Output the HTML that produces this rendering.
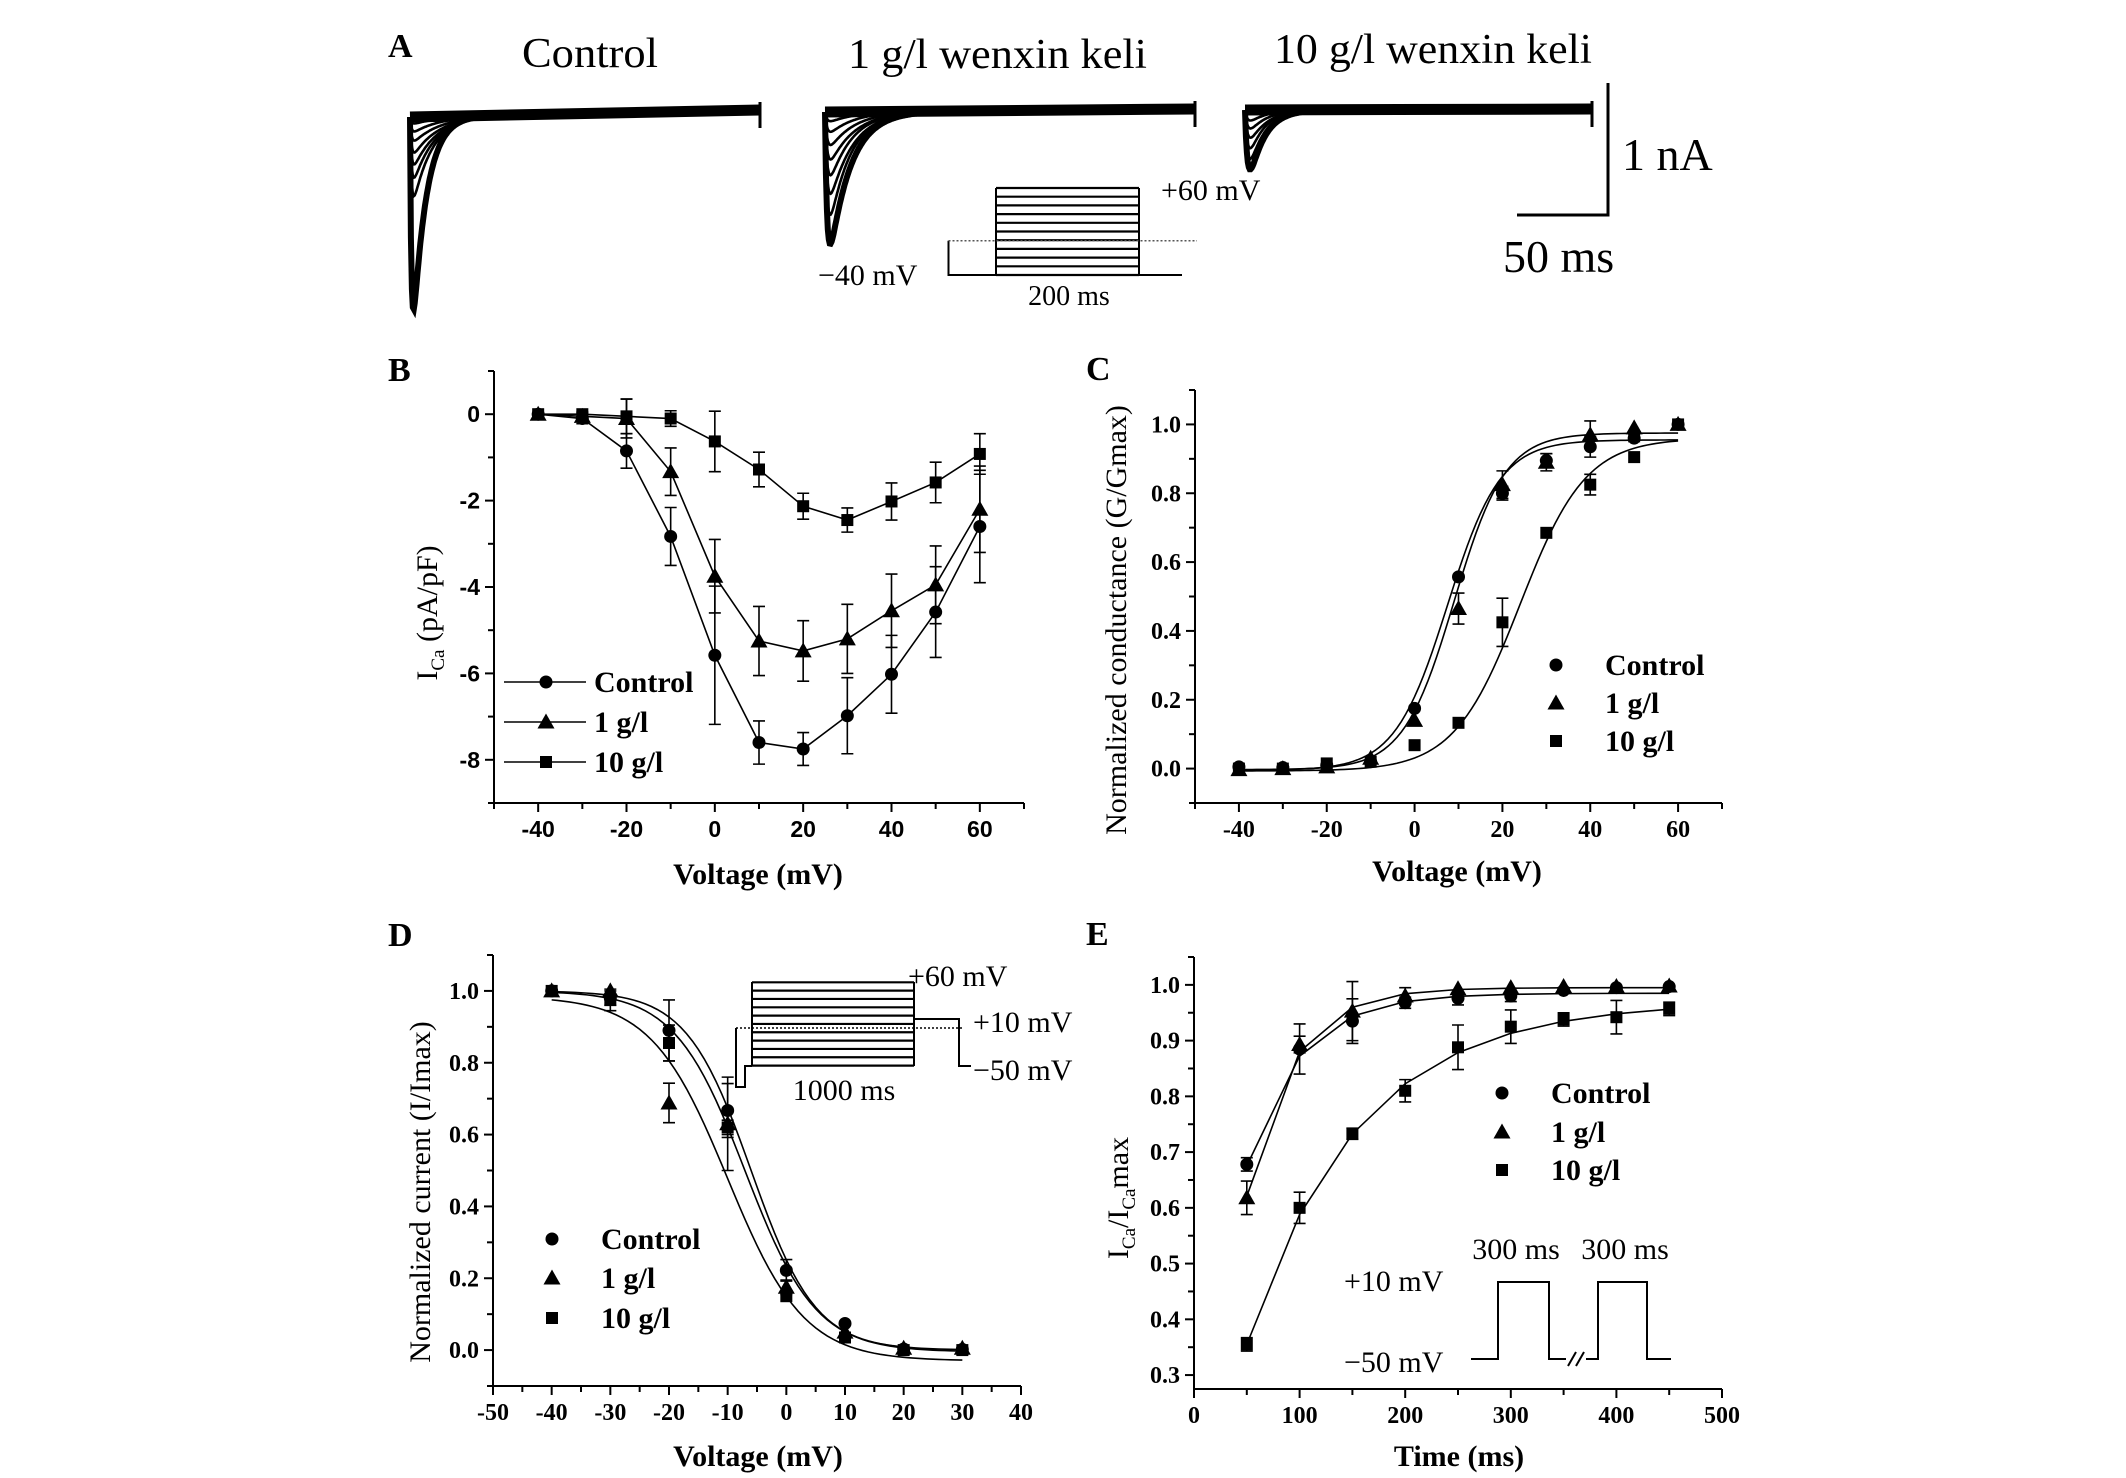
<!DOCTYPE html>
<html><head><meta charset="utf-8"><title>Wenxin keli calcium current figure</title>
<style>
html,body{margin:0;padding:0;background:#fff;}
svg{display:block;}
.serif{font-family:"Liberation Serif",serif;}
.sans{font-family:"Liberation Sans",sans-serif;}
</style></head>
<body>
<svg id="fig" width="2126" height="1478" viewBox="0 0 2126 1478" xmlns="http://www.w3.org/2000/svg">
<rect x="0" y="0" width="2126" height="1478" fill="#fff"/>
<g class="serif" fill="#000">
<text x="388" y="57" font-size="34" font-weight="bold">A</text>
<text x="522" y="67" font-size="42" textLength="136" lengthAdjust="spacingAndGlyphs">Control</text>
<text x="848" y="68" font-size="42" textLength="299" lengthAdjust="spacingAndGlyphs">1 g/l wenxin keli</text>
<text x="1274" y="63" font-size="42" textLength="318" lengthAdjust="spacingAndGlyphs">10 g/l wenxin keli</text>
<text x="1622" y="170" font-size="46">1 nA</text>
<text x="1503" y="272" font-size="46">50 ms</text>
<text x="1161" y="200" font-size="30">+60 mV</text>
<text x="818" y="285" font-size="30">−40 mV</text>
<text x="1069" y="305" font-size="28" text-anchor="middle">200 ms</text>
</g>
<g stroke="#000" stroke-width="3" fill="none">
<polyline points="1608,83 1608,215 1517,215"/>
</g>
<g id="protoA"></g>
<g id="tracesA"></g>

<g class="serif" font-weight="bold" font-size="34" fill="#000">
<text x="388" y="381">B</text>
<text x="1086" y="380">C</text>
<text x="388" y="946">D</text>
<text x="1086" y="945">E</text>
</g>

<g class="serif" fill="#000">
<text x="758" y="884" font-size="30" font-weight="bold" text-anchor="middle">Voltage (mV)</text>
<text transform="translate(437,613) rotate(-90)" font-size="30" text-anchor="middle">I<tspan font-size="19" dy="7">Ca</tspan><tspan dy="-7"> (pA/pF)</tspan></text>
<text x="1457" y="881" font-size="30" font-weight="bold" text-anchor="middle">Voltage (mV)</text>
<text transform="translate(1126,620) rotate(-90)" font-size="30" text-anchor="middle">Normalized conductance (G/Gmax)</text>
<text x="758" y="1466" font-size="30" font-weight="bold" text-anchor="middle">Voltage (mV)</text>
<text transform="translate(430,1192) rotate(-90)" font-size="30" text-anchor="middle">Normalized current (I/Imax)</text>
<text x="1459" y="1466" font-size="30" font-weight="bold" text-anchor="middle">Time (ms)</text>
<text transform="translate(1128,1198) rotate(-90)" font-size="30" text-anchor="middle">I<tspan font-size="19" dy="7">Ca</tspan><tspan dy="-7">/I</tspan><tspan font-size="19" dy="7">Ca</tspan><tspan dy="-7">max</tspan></text>
</g>

<g class="serif" fill="#000" font-size="30">
<text x="908" y="986">+60 mV</text>
<text x="973" y="1032">+10 mV</text>
<text x="973" y="1080">−50 mV</text>
<text x="844" y="1100" text-anchor="middle">1000 ms</text>
</g>
<g class="serif" fill="#000" font-size="30">
<text x="1516" y="1259" text-anchor="middle">300 ms</text>
<text x="1625" y="1259" text-anchor="middle">300 ms</text>
<text x="1344" y="1291">+10 mV</text>
<text x="1344" y="1372">−50 mV</text>
</g>
<g stroke="#000" stroke-width="2" fill="none">
<polyline points="1471,1359 1498,1359 1498,1282 1549,1282 1549,1359 1566,1359"/>
<polyline points="1586,1359 1598,1359 1598,1282 1647,1282 1647,1359 1671,1359"/>
<line x1="1568" y1="1366" x2="1576" y2="1352"/>
<line x1="1576" y1="1366" x2="1584" y2="1352"/>
</g>
<g id="protoD"></g>
<g id="charts"></g>
</svg>

<script>
// ---------- Panel A trace data (nA amplitudes, ms decay constants) ----------
const aCtrlAmp = [1.46, 0.6, 0.46, 0.36, 0.27, 0.18, 0.11, 0.05];
const aCtrlTau = [7, 10, 11, 12, 13, 14, 14, 14];
const a1Amp = [1.0, 0.78, 0.62, 0.48, 0.36, 0.25, 0.15, 0.07];
const a1Tau = [11, 11, 12, 12, 13, 13, 13, 13];
const a10Amp = [0.45, 0.37, 0.29, 0.21, 0.14, 0.08];
const a10Tau = [8, 8, 8, 9, 9, 9];

// ---------- Panel B: I-V ----------
const bVolt = [-40, -30, -20, -10, 0, 10, 20, 30, 40, 50, 60];
const bCtrl = [0, -0.1, -0.85, -2.83, -5.58, -7.6, -7.75, -6.98, -6.02, -4.58, -2.6];
const bCtrlErr = [0, 0.12, 0.4, 0.67, 1.6, 0.5, 0.38, 0.88, 0.9, 1.05, 1.3];
const b1 = [0, -0.05, -0.1, -1.33, -3.75, -5.25, -5.48, -5.2, -4.55, -3.95, -2.2];
const b1Err = [0, 0.05, 0.45, 0.55, 0.85, 0.8, 0.7, 0.8, 0.85, 0.9, 1.0];
const b10 = [0, 0, -0.05, -0.1, -0.63, -1.28, -2.13, -2.45, -2.02, -1.58, -0.92];
const b10Err = [0, 0.05, 0.4, 0.18, 0.7, 0.4, 0.3, 0.28, 0.43, 0.47, 0.47];
const bXTicks = [-40, -20, 0, 20, 40, 60];
const bYTicks = [0, -2, -4, -6, -8];

// ---------- Panel C: activation ----------
const cVolt = [-40, -30, -20, -10, 0, 10, 20, 30, 40, 50, 60];
const cCtrl = [0.005, 0.003, 0.01, 0.02, 0.175, 0.557, 0.8, 0.895, 0.935, 0.96, 1.0];
const cCtrlErr = [0, 0, 0, 0, 0, 0, 0.02, 0.02, 0.03, 0.01, 0];
const c1 = [-0.003, 0, 0.005, 0.03, 0.14, 0.465, 0.825, 0.89, 0.97, 0.99, 1.0];
const c1Err = [0, 0, 0, 0, 0, 0.045, 0.04, 0.025, 0.04, 0, 0];
const c10 = [0, 0, 0.015, 0.02, 0.068, 0.133, 0.425, 0.685, 0.825, 0.905, 1.0];
const c10Err = [0, 0, 0, 0, 0, 0, 0.07, 0, 0.03, 0, 0];
const cFitMax = [0.955, 0.975, 0.96];
const cFitHalf = [7.5, 9, 24];
const cFitSlope = [6, 5.8, 7.5];
const cFitMin = [-0.005, -0.003, -0.007];
const cXTicks = [-40, -20, 0, 20, 40, 60];
const cYTicks = [0.0, 0.2, 0.4, 0.6, 0.8, 1.0];

// ---------- Panel D: inactivation ----------
const dVolt = [-40, -30, -20, -10, 0, 10, 20, 30];
const dCtrl = [1.0, 0.98, 0.89, 0.667, 0.222, 0.074, 0.003, 0.002];
const dCtrlErr = [0, 0.02, 0.085, 0.075, 0.03, 0, 0, 0];
const d1 = [1.0, 1.0, 0.688, 0.63, 0.175, 0.05, 0.005, 0.005];
const d1Err = [0, 0, 0.055, 0.13, 0.02, 0, 0, 0];
const d10 = [1.0, 0.975, 0.855, 0.62, 0.15, 0.035, 0.0, 0.0];
const d10Err = [0, 0.03, 0.05, 0.02, 0, 0, 0, 0];
const dFitTop = [1.0, 1.0, 0.985];
const dFitBottom = [0, -0.005, -0.03];
const dFitHalf = [-6, -7, -10];
const dFitSlope = [5.5, 6, 6.5];
const dXTicks = [-50, -40, -30, -20, -10, 0, 10, 20, 30, 40];
const dYTicks = [0.0, 0.2, 0.4, 0.6, 0.8, 1.0];

// ---------- Panel E: recovery ----------
const eTime = [50, 100, 150, 200, 250, 300, 350, 400, 450];
const eCtrl = [0.678, 0.885, 0.935, 0.968, 0.976, 0.98, 0.99, 0.995, 0.997];
const eCtrlErr = [0.012, 0.045, 0.04, 0.01, 0.012, 0.01, 0.005, 0, 0];
const e1 = [0.618, 0.893, 0.953, 0.98, 0.993, 0.995, 0.997, 0.997, 0.998];
const e1Err = [0.03, 0.015, 0.053, 0.015, 0, 0, 0, 0, 0];
const e10 = [0.355, 0.6, 0.733, 0.81, 0.888, 0.925, 0.938, 0.942, 0.957];
const e10Err = [0.012, 0.028, 0.01, 0.02, 0.04, 0.03, 0.012, 0.03, 0.012];
const eFitPlateau = [0.985, 0.995, 0.97];
const eFitAmp = [0.85, 1.22, 0.99];
const eFitTau = [49.5, 42.3, 105];
const eXTicks = [0, 100, 200, 300, 400, 500];
const eYTicks = [0.3, 0.4, 0.5, 0.6, 0.7, 0.8, 0.9, 1.0];

const NS = 'http://www.w3.org/2000/svg';
function mk(parent, tag, attrs, name) {
  const el = document.createElementNS(NS, tag);
  for (const k in attrs) el.setAttribute(k, attrs[k]);
  
  
  parent.appendChild(el);
  return el;
}
const charts = document.getElementById('charts');

function makeScale(d0, d1, p0, p1) { return v => p0 + (v - d0) / (d1 - d0) * (p1 - p0); }

function axes(g, cfg, pfx) {
  const sx = cfg.sx, sy = cfg.sy;
  mk(g, 'line', {x1: cfg.x0, y1: cfg.y0, x2: cfg.x0, y2: cfg.y1, stroke: '#000', 'stroke-width': 2}, pfx + '-y-axis');
  mk(g, 'line', {x1: cfg.x0, y1: cfg.y1, x2: cfg.x1, y2: cfg.y1, stroke: '#000', 'stroke-width': 2}, pfx + '-x-axis');
  for (let v = cfg.xMinor[0]; v <= cfg.xMinor[1] + 1e-9; v += cfg.xMinor[2]) {
    const major = cfg.xTicks.some(t => Math.abs(t - v) < 1e-9);
    mk(g, 'line', {x1: sx(v), y1: cfg.y1, x2: sx(v), y2: cfg.y1 + (major ? 9 : 6), stroke: '#000', 'stroke-width': 2}, pfx + '-x-tick');
  }
  for (let v = cfg.yMinor[0]; v <= cfg.yMinor[1] + 1e-9; v += cfg.yMinor[2]) {
    const major = cfg.yTicks.some(t => Math.abs(t - v) < 1e-9);
    mk(g, 'line', {x1: cfg.x0, y1: sy(v), x2: cfg.x0 - (major ? 9 : 6), y2: sy(v), stroke: '#000', 'stroke-width': 2}, pfx + '-y-tick');
  }
  cfg.xTicks.forEach(t => {
    const el = mk(g, 'text', {x: sx(t), y: cfg.y1 + 34, 'text-anchor': 'middle', 'font-size': cfg.fs, 'font-weight': 'bold', 'font-family': cfg.font}, pfx + '-x-tick-label');
    el.textContent = String(t);
  });
  cfg.yTicks.forEach(t => {
    const el = mk(g, 'text', {x: cfg.x0 - 14, y: sy(t) + 8, 'text-anchor': 'end', 'font-size': cfg.fs, 'font-weight': 'bold', 'font-family': cfg.font}, pfx + '-y-tick-label');
    el.textContent = cfg.yFmt(t);
  });
}

function marker(g, type, cx, cy, name) {
  if (type === 'circle') return mk(g, 'circle', {cx: cx, cy: cy, r: 6.5, fill: '#000'}, name);
  if (type === 'tri') return mk(g, 'polygon', {points: `${cx},${cy - 8.5} ${cx - 8.5},${cy + 6.5} ${cx + 8.5},${cy + 6.5}`, fill: '#000'}, name);
  return mk(g, 'rect', {x: cx - 6, y: cy - 6, width: 12, height: 12, fill: '#000'}, name);
}

function errbar(g, x, ytop, ybot, name) {
  if (Math.abs(ybot - ytop) < 1) return;
  mk(g, 'path', {d: `M${x},${ytop}V${ybot}M${x - 6},${ytop}H${x + 6}M${x - 6},${ybot}H${x + 6}`, stroke: '#000', 'stroke-width': 1.6, fill: 'none'}, name);
}

function series(g, cfg, xs, ys, errs, type, pfx, connect) {
  const sx = cfg.sx, sy = cfg.sy;
  if (connect) {
    mk(g, 'polyline', {points: xs.map((x, i) => `${sx(x)},${sy(ys[i])}`).join(' '), fill: 'none', stroke: '#000', 'stroke-width': 1.6}, pfx + '-line');
  }
  xs.forEach((x, i) => {
    errbar(g, sx(x), sy(ys[i] + errs[i]), sy(ys[i] - errs[i]), pfx + '-error-bar');
    marker(g, type, sx(x), sy(ys[i]), pfx + '-point');
  });
}

function legendEntries(g, items, mx, tx, ys, withLine, pfx) {
  items.forEach((it, i) => {
    if (withLine) mk(g, 'line', {x1: mx - 42, y1: ys[i], x2: mx + 40, y2: ys[i], stroke: '#000', 'stroke-width': 1.6}, pfx + '-legend-line');
    marker(g, it[0], mx, ys[i], pfx + '-legend-marker');
    const t = mk(g, 'text', {x: tx, y: ys[i] + 10, 'font-size': 30, 'font-weight': 'bold', 'font-family': 'Liberation Serif, serif'}, pfx + '-legend-label');
    t.textContent = it[1];
  });
}

const legendItems = [['circle', 'Control'], ['tri', '1 g/l'], ['square', '10 g/l']];

(function () {
  const cfg = {x0: 494, x1: 1024, y0: 371, y1: 803, fs: 23, font: 'Liberation Sans, sans-serif',
    xTicks: bXTicks, yTicks: bYTicks, xMinor: [-50, 70, 10], yMinor: [-9, 1, 1], yFmt: t => String(t)};
  cfg.sx = makeScale(-50, 70, cfg.x0, cfg.x1); cfg.sy = makeScale(1, -9, cfg.y0, cfg.y1);
  const g = mk(charts, 'g', {}, 'panel-b-iv-chart');
  axes(g, cfg, 'b');
  series(g, cfg, bVolt, bCtrl, bCtrlErr, 'circle', 'b-control', true);
  series(g, cfg, bVolt, b1, b1Err, 'tri', 'b-1gl', true);
  series(g, cfg, bVolt, b10, b10Err, 'square', 'b-10gl', true);
  legendEntries(g, legendItems, 546, 594, [682, 722, 762], true, 'b');
})();

(function () {
  const cfg = {x0: 1195, x1: 1722, y0: 390, y1: 803, fs: 24, font: 'Liberation Serif, serif',
    xTicks: cXTicks, yTicks: cYTicks, xMinor: [-50, 70, 10], yMinor: [-0.1, 1.1, 0.1], yFmt: t => t.toFixed(1)};
  cfg.sx = makeScale(-50, 70, cfg.x0, cfg.x1); cfg.sy = makeScale(1.1, -0.1, cfg.y0, cfg.y1);
  const g = mk(charts, 'g', {}, 'panel-c-activation-chart');
  axes(g, cfg, 'c');
  const names = ['c-control-fit', 'c-1gl-fit', 'c-10gl-fit'];
  for (let s = 0; s < 3; s++) {
    const pts = [];
    for (let v = -40; v <= 60; v += 1) {
      const y = cFitMin[s] + (cFitMax[s] - cFitMin[s]) / (1 + Math.exp((cFitHalf[s] - v) / cFitSlope[s]));
      pts.push(`${cfg.sx(v)},${cfg.sy(y)}`);
    }
    mk(g, 'polyline', {points: pts.join(' '), fill: 'none', stroke: '#000', 'stroke-width': 1.6}, names[s]);
  }
  series(g, cfg, cVolt, cCtrl, cCtrlErr, 'circle', 'c-control', false);
  series(g, cfg, cVolt, c1, c1Err, 'tri', 'c-1gl', false);
  series(g, cfg, cVolt, c10, c10Err, 'square', 'c-10gl', false);
  legendEntries(g, legendItems, 1556, 1605, [665, 703, 741], false, 'c');
})();

(function () {
  const cfg = {x0: 493, x1: 1021, y0: 955, y1: 1386, fs: 24, font: 'Liberation Serif, serif',
    xTicks: dXTicks, yTicks: dYTicks, xMinor: [-50, 40, 5], yMinor: [-0.1, 1.1, 0.1], yFmt: t => t.toFixed(1)};
  cfg.sx = makeScale(-50, 40, cfg.x0, cfg.x1); cfg.sy = makeScale(1.1, -0.1, cfg.y0, cfg.y1);
  const g = mk(charts, 'g', {}, 'panel-d-inactivation-chart');
  axes(g, cfg, 'd');
  const names = ['d-control-fit', 'd-1gl-fit', 'd-10gl-fit'];
  for (let s = 0; s < 3; s++) {
    const pts = [];
    for (let v = -40; v <= 30; v += 1) {
      const y = dFitBottom[s] + (dFitTop[s] - dFitBottom[s]) / (1 + Math.exp((v - dFitHalf[s]) / dFitSlope[s]));
      pts.push(`${cfg.sx(v)},${cfg.sy(y)}`);
    }
    mk(g, 'polyline', {points: pts.join(' '), fill: 'none', stroke: '#000', 'stroke-width': 1.6}, names[s]);
  }
  series(g, cfg, dVolt, dCtrl, dCtrlErr, 'circle', 'd-control', false);
  series(g, cfg, dVolt, d1, d1Err, 'tri', 'd-1gl', false);
  series(g, cfg, dVolt, d10, d10Err, 'square', 'd-10gl', false);
  legendEntries(g, legendItems, 552, 601, [1239, 1278, 1318], false, 'd');
})();

(function () {
  const cfg = {x0: 1194, x1: 1722, y0: 957, y1: 1389, fs: 24, font: 'Liberation Serif, serif',
    xTicks: eXTicks, yTicks: eYTicks, xMinor: [0, 500, 50], yMinor: [0.3, 1.05, 0.05], yFmt: t => t.toFixed(1)};
  cfg.sx = makeScale(0, 500, cfg.x0, cfg.x1); cfg.sy = makeScale(1.05, 0.275, cfg.y0, cfg.y1);
  const g = mk(charts, 'g', {}, 'panel-e-recovery-chart');
  axes(g, cfg, 'e');
  const names = ['e-control-fit', 'e-1gl-fit', 'e-10gl-fit'];
  for (let s = 0; s < 3; s++) {
    const pts = eTime.map(t => `${cfg.sx(t)},${cfg.sy(eFitPlateau[s] - eFitAmp[s] * Math.exp(-t / eFitTau[s]))}`);
    mk(g, 'polyline', {points: pts.join(' '), fill: 'none', stroke: '#000', 'stroke-width': 1.6}, names[s]);
  }
  series(g, cfg, eTime, eCtrl, eCtrlErr, 'circle', 'e-control', false);
  series(g, cfg, eTime, e1, e1Err, 'tri', 'e-1gl', false);
  series(g, cfg, eTime, e10, e10Err, 'square', 'e-10gl', false);
  legendEntries(g, legendItems, 1502, 1551, [1093, 1132, 1170], false, 'e');
})();

(function () {
  const g = document.getElementById('protoA');
  for (let i = 0; i < 11; i++) {
    const y = 188 + i * 8.7;
    mk(g, 'line', {x1: 996, y1: y, x2: 1139, y2: y, stroke: '#000', 'stroke-width': 2.2}, 'protocol-a-step');
  }
  mk(g, 'path', {d: 'M996,188V275M1139,188V275M948.5,240.7V275H1182', stroke: '#000', 'stroke-width': 2, fill: 'none'}, 'protocol-a-outline');
  mk(g, 'line', {x1: 948.5, y1: 240.7, x2: 1197, y2: 240.7, stroke: '#555', 'stroke-width': 1.5, 'stroke-dasharray': '2,2'}, 'protocol-a-dotted-level');
})();
(function () {
  const g = document.getElementById('protoD');
  for (let i = 0; i < 11; i++) {
    const y = 982.3 + i * 8.33;
    mk(g, 'line', {x1: 752, y1: y, x2: 914, y2: y, stroke: '#000', 'stroke-width': 2.2}, 'protocol-d-step');
  }
  mk(g, 'path', {d: 'M752,982V1066M914,982V1066M736,1028V1087H745V1066H752M914,1019H959V1066H971', stroke: '#000', 'stroke-width': 2, fill: 'none'}, 'protocol-d-outline');
  mk(g, 'line', {x1: 736, y1: 1028, x2: 964, y2: 1028, stroke: '#000', 'stroke-width': 1.5, 'stroke-dasharray': '2,2'}, 'protocol-d-dotted-level');
})();

(function () {
  const g = document.getElementById('tracesA');
  const pxPerNA = 132, pxPerMs = 94 / 50;
  function drawSet(x0, x1, yStart, yEnd, amps, taus, rise, pfx) {
    const dur = (x1 - x0) / pxPerMs;
    const base = t => yStart + (yEnd - yStart) * t / dur;
    mk(g, 'polyline', {points: `${x0},${base(0)} ${x1},${base(dur)}`, fill: 'none', stroke: '#000', 'stroke-width': 11}, pfx + '-baseline');
    mk(g, 'line', {x1: x1, y1: base(dur) - 8, x2: x1, y2: base(dur) + 18, stroke: '#000', 'stroke-width': 3}, pfx + '-end-artifact');
    amps.forEach((a, i) => {
      let peak = 0;
      for (let t = 0; t <= dur; t += 0.1) peak = Math.max(peak, (1 - Math.exp(-t / rise)) * Math.exp(-t / taus[i]));
      const pts = [];
      for (let t = 0; t <= dur; t += 0.5) {
        const y = base(t) + a * pxPerNA * (1 - Math.exp(-t / rise)) * Math.exp(-t / taus[i]) / peak;
        pts.push(`${(x0 + t * pxPerMs).toFixed(1)},${y.toFixed(1)}`);
      }
      mk(g, 'polyline', {points: pts.join(' '), fill: 'none', stroke: '#000', 'stroke-width': i === 0 ? 6 : 2.6}, pfx + '-trace');
    });
  }
  drawSet(410, 760, 117, 110, aCtrlAmp, aCtrlTau, 0.8, 'control');
  drawSet(825, 1195, 112, 109, a1Amp, a1Tau, 1.2, 'wenxin-1gl');
  drawSet(1245, 1592, 110, 109, a10Amp, a10Tau, 1.5, 'wenxin-10gl');
})();
</script>
</body></html>
